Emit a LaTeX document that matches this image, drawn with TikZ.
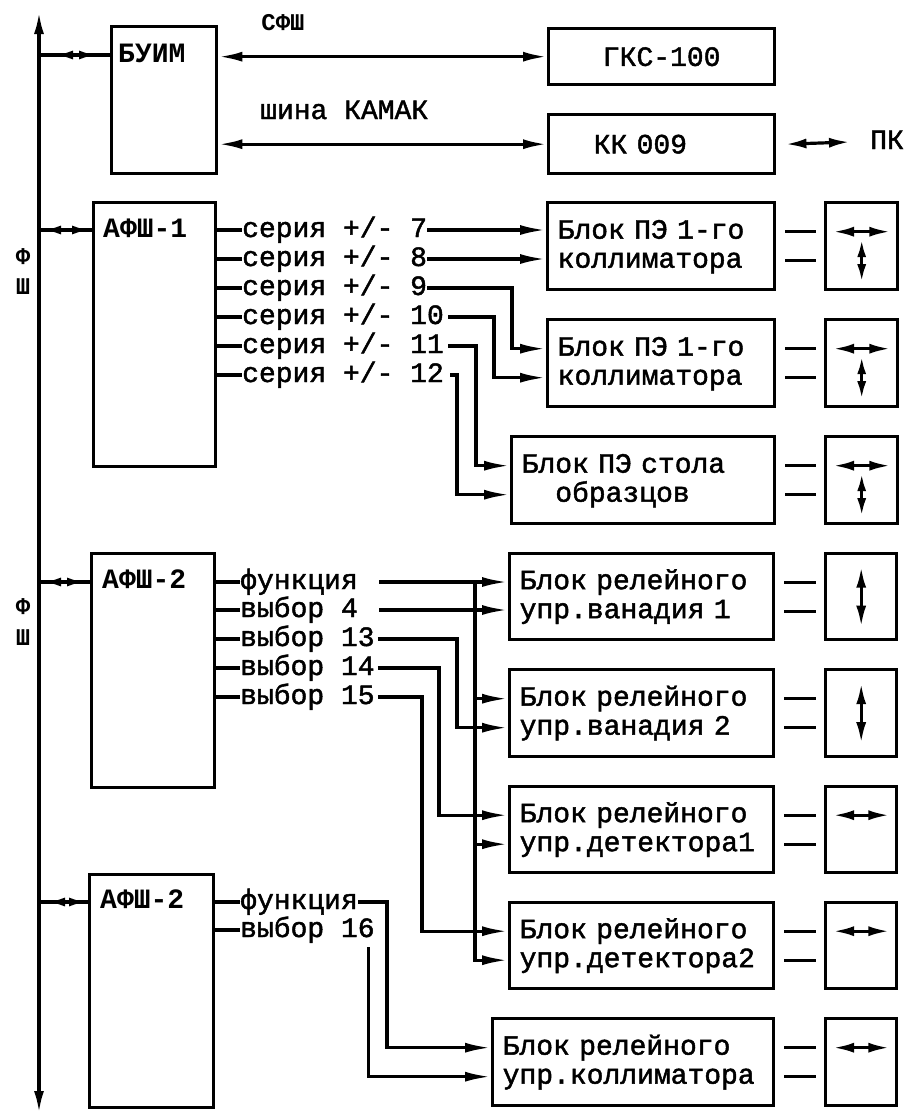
\documentclass[tikz,border=0pt]{standalone}
\usepackage{fontspec}
\newfontfamily\mono{Liberation Mono}[FakeBold=1.6]
\newfontfamily\monoB{Liberation Mono Bold}
\usetikzlibrary{arrows.meta,calc}
\newcommand\fN{\mono\fontsize{28}{29}\selectfont}
\newcommand\fB{\monoB\fontsize{28}{29}\selectfont}
\newcommand\fS{\monoB\fontsize{24}{30}\selectfont}
\newcommand\StrutTop{\rule{0pt}{22pt}}
\newcommand\StrutBot{\rule[-8pt]{0pt}{8pt}}
\begin{document}
\begin{tikzpicture}[x=1pt,y=-1pt,
  every node/.style={font=\fN},
  lw/.style={line width=3.2pt},
  box/.style={draw, line width=3.4pt, anchor=north west, inner sep=0pt},
  blk/.style={box, inner xsep=10pt, inner ysep=0pt, align=left},
  lab/.style={inner sep=0pt, text height=14pt, text depth=0pt, anchor=west},
  boxlab/.style={inner sep=0pt, anchor=base west, font=\fB},
  arr/.style={line width=3.2pt, -{Latex[length=26pt,width=10pt]}},
  dbl/.style={line width=3.2pt, {Latex[length=24pt,width=10pt]}-{Latex[length=24pt,width=10pt]}},
  sdbl/.style={line width=3.2pt, {Latex[length=21pt,width=10pt]}-{Latex[length=21pt,width=10pt]}},
  bdbl/.style={line width=3.2pt, {Latex[length=18pt,width=9pt]}-{Latex[length=18pt,width=9pt]}}
]
\useasboundingbox (0,0) rectangle (904,1117);

% ---------- bus ----------
\coordinate (bt) at (39,12);
\coordinate (bb) at (39,1113);
\coordinate (c0) at (39,55);
\coordinate (c1) at (39,230);
\coordinate (c2) at (39,582);
\coordinate (c3) at (39,902);
\draw[lw, {Latex[length=22pt,width=10pt]}-{Latex[length=22pt,width=10pt]}] (bt) -- (bb);
\node[font=\fS, inner sep=0pt] (fs1a) at (23,257) {Ф};
\node[font=\fS, inner sep=0pt] (fs1b) at (23,287) {Ш};
\node[font=\fS, inner sep=0pt] (fs2a) at (23,607) {Ф};
\node[font=\fS, inner sep=0pt] (fs2b) at (23,638) {Ш};

% ---------- top ----------
\node[box, minimum width=105pt, minimum height=147pt,
  label={[boxlab, xshift=8pt, yshift=-37pt]north west:БУИМ}] (buim) at (110,25) {};
\node[box, minimum width=226pt, minimum height=56pt] (gks) at (547,27) {ГКС-100};
\node[box, text width=136pt, inner xsep=45pt, minimum height=59pt, align=left] (kk) at (547,113) {КК 009};
\node[font=\fS] (sfsh) at (283,23) {СФШ};
\node[lab] (kam) at (260,112) {шина КАМАК};
\node[lab] (pk) at (870,142) {ПК};

\draw[lw] (c0) -- (c0 -| buim.west);
\draw[bdbl] ($(c0)+(16,0)$) -- ($(c0 -| buim.west)+(-13,0)$);
\draw[dbl] (buim.east |- gks.west) -- (gks.west);
\draw[dbl] (buim.east |- kk.west) -- (kk.west);
\draw[sdbl] ($(kk.east)+(9,0)$) -- ($(pk.west)+(-20,0)$);

% ---------- AFSh-1 ----------
\node[box, minimum width=122pt, minimum height=264pt,
  label={[boxlab, xshift=11pt, yshift=-36pt]north west:АФШ-1}] (a1) at (92,201) {};
\draw[lw] (c1) -- (c1 -| a1.west);
\draw[bdbl] ($(c1)+(4,0)$) -- ($(c1 -| a1.west)+(-2,0)$);

\node[lab] (s7)  at (242,230) {серия +/- 7};
\node[lab] (s8)  at (242,259) {серия +/- 8};
\node[lab] (s9)  at (242,288) {серия +/- 9};
\node[lab] (s10) at (242,317) {серия +/- 10};
\node[lab] (s11) at (242,346) {серия +/- 11};
\node[lab] (s12) at (242,375) {серия +/- 12};
\foreach \s in {s7,s8,s9,s10,s11,s12}
  \draw[lw] (\s -| a1.east) -- (\s.west);

\node[blk, text width=207pt, minimum height=87pt] (pe1) at (546,201) {\StrutTop Блок ПЭ 1-го\\коллиматора\StrutBot};
\node[blk, text width=207pt, minimum height=87pt] (pe2) at (546,318) {\StrutTop Блок ПЭ 1-го\\коллиматора\StrutBot};
\node[blk, text width=243pt, minimum height=87pt] (pe3) at (510,435) {\StrutTop Блок ПЭ стола\\\phantom{xx}образцов\StrutBot};

\draw[arr] (s7.east) -- (s7.east -| pe1.west);
\draw[arr] (s8.east) -- (s8.east -| pe1.west);
\draw[arr] (s9.east) -| ($(pe2.west)+(-34,-14.5)$) -- ($(pe2.west)+(0,-14.5)$);
\draw[arr] ($(s10.east)+(4,0)$) -| ($(pe2.west)+(-52,14.5)$) -- ($(pe2.west)+(0,14.5)$);
\draw[arr] ($(s11.east)+(4,0)$) -| ($(pe3.west)+(-34,-14.5)$) -- ($(pe3.west)+(0,-14.5)$);
\draw[arr] ($(s12.east)+(6,0)$) -| ($(pe3.west)+(-53,14.5)$) -- ($(pe3.west)+(0,14.5)$);

\node[box, minimum width=72pt, minimum height=87pt] (m1) at (824,201) {};
\node[box, minimum width=72pt, minimum height=87pt] (m2) at (824,318) {};
\node[box, minimum width=72pt, minimum height=87pt] (m3) at (824,435) {};
\foreach \b/\m in {pe1/m1,pe2/m2,pe3/m3}{
  \draw[lw] ($(\b.east)+(9,-14.5)$) -- ($(\m.west)+(-8,-14.5)$);
  \draw[lw] ($(\b.east)+(9,14.5)$) -- ($(\m.west)+(-8,14.5)$);
  \draw[sdbl] ($(\m.west)+(9,-14.5)$) -- ($(\m.east)+(-9,-14.5)$);
  \draw[bdbl] ($(\m.center)+(0,-7)$) -- ($(\m.center)+(0,36)$);
}

% ---------- AFSh-2 ----------
\node[box, minimum width=123pt, minimum height=234pt,
  label={[boxlab, xshift=12pt, yshift=-36pt]north west:АФШ-2}] (a2) at (90,552) {};
\draw[lw] (c2) -- (c2 -| a2.west);
\draw[bdbl] ($(c2)+(4,0)$) -- ($(c2 -| a2.west)+(-5,0)$);

\node[lab] (f2)  at (240,582) {функция};
\node[lab] (v4)  at (240,610) {выбор 4};
\node[lab] (v13) at (240,639) {выбор 13};
\node[lab] (v14) at (240,668) {выбор 14};
\node[lab] (v15) at (240,697) {выбор 15};
\foreach \s in {f2,v4,v13,v14,v15}
  \draw[lw] (\s -| a2.east) -- (\s.west);

\node[blk, text width=244pt, minimum height=86pt] (r1) at (508,552) {\StrutTop Блок релейного\\упр.ванадия 1\StrutBot};
\node[blk, text width=244pt, minimum height=87pt] (r2) at (508,668) {\StrutTop Блок релейного\\упр.ванадия 2\StrutBot};
\node[blk, text width=244pt, minimum height=86pt] (r3) at (508,785) {\StrutTop Блок релейного\\упр.детектора1\StrutBot};
\node[blk, text width=244pt, minimum height=86pt] (r4) at (508,901) {\StrutTop Блок релейного\\упр.детектора2\StrutBot};
\node[blk, text width=261pt, minimum height=87pt] (r5) at (491,1017) {\StrutTop Блок релейного\\упр.коллиматора\StrutBot};

\coordinate (tj) at ($(f2.east -| r1.west)+(-33,0)$);
\draw[arr] ($(f2.east)+(21,0)$) -- (f2.east -| r1.west);
\draw[arr] (tj) |- ($(r4.west)+(0,14.5)$);
\draw[arr] ($(r2.west)+(-33,-14.5)$) -- ($(r2.west)+(0,-14.5)$);
\draw[arr] ($(r3.west)+(-33,14.5)$) -- ($(r3.west)+(0,14.5)$);
\draw[arr] ($(v4.east)+(21,0)$) -- (v4.east -| r1.west);
\draw[arr] ($(v13.east)+(3,0)$) -| ($(r2.west)+(-51,14.5)$) -- ($(r2.west)+(0,14.5)$);
\draw[arr] ($(v14.east)+(3,0)$) -| ($(r3.west)+(-69,-14.5)$) -- ($(r3.west)+(0,-14.5)$);
\draw[arr] ($(v15.east)+(3,0)$) -| ($(r4.west)+(-86,-14.5)$) -- ($(r4.west)+(0,-14.5)$);

\node[box, minimum width=71pt, minimum height=86pt] (n1) at (824,552) {};
\node[box, minimum width=71pt, minimum height=87pt] (n2) at (824,668) {};
\node[box, minimum width=71pt, minimum height=86pt] (n3) at (824,785) {};
\node[box, minimum width=71pt, minimum height=86pt] (n4) at (824,901) {};
\node[box, minimum width=71pt, minimum height=87pt] (n5) at (824,1017) {};
\foreach \b/\m in {r1/n1,r2/n2,r3/n3,r4/n4,r5/n5}{
  \draw[lw] ($(\b.east)+(9,-14.5)$) -- ($(\m.west)+(-8,-14.5)$);
  \draw[lw] ($(\b.east)+(9,14.5)$) -- ($(\m.west)+(-8,14.5)$);
}
\draw[sdbl] ($(n1.center)+(0,-30)$) -- ($(n1.center)+(0,30)$);
\draw[sdbl] ($(n2.center)+(0,-30)$) -- ($(n2.center)+(0,30)$);
\foreach \m in {n3,n4,n5}
  \draw[sdbl] ($(\m.west)+(9,-14.5)$) -- ($(\m.east)+(-9,-14.5)$);

% ---------- AFSh-2 (third) ----------
\node[box, minimum width=124pt, minimum height=233pt,
  label={[boxlab, xshift=12pt, yshift=-35pt]north west:АФШ-2}] (a3) at (88,873) {};
\draw[lw] (c3) -- (c3 -| a3.west);
\draw[bdbl] ($(c3)+(8,0)$) -- ($(c3 -| a3.west)+(-1,0)$);

\node[lab] (f3)  at (240,902) {функция};
\node[lab] (v16) at (240,930) {выбор 16};
\foreach \s in {f3,v16}
  \draw[lw] (\s -| a3.east) -- (\s.west);

\draw[arr] (f3.east) -| ($(r5.west)+(-104,-14.5)$) -- ($(r5.west)+(0,-14.5)$);
\draw[arr] ($(v16.east)+(-6,17)$) |- ($(r5.west)+(0,14.5)$);

\end{tikzpicture}
\end{document}
